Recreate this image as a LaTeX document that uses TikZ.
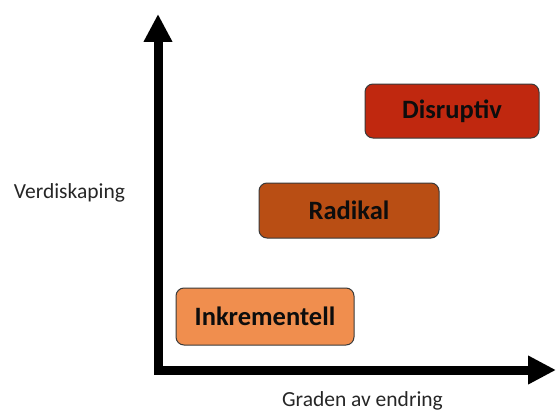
\documentclass[tikz,border=0pt]{standalone}
\usepackage{fontspec}
\setmainfont{Carlito}
\usetikzlibrary{arrows.meta,positioning}
\definecolor{innlys}{HTML}{F08E4E}
\definecolor{radbrun}{HTML}{B94E14}
\definecolor{disrod}{HTML}{C0280F}
\definecolor{kant}{HTML}{3A3A3A}

\begin{document}
\begin{tikzpicture}[
    x=1pt, y=-1pt,
    level/.style={rounded corners=8pt, draw=kant, line width=1pt,
                  minimum height=55pt, inner sep=0pt,
                  font=\fontsize{26.5}{30}\selectfont\bfseries, text=black!95},
    axis/.style={{Triangle[length=28pt,width=27pt]}-{Triangle[length=28pt,width=27pt]},
                 line width=9pt, miter limit=10, black},
    label/.style={font=\fontsize{21.5}{25}\selectfont, text=black!85, anchor=base}
  ]
    \useasboundingbox (0,0) rectangle (556,412);
    % axes
    \coordinate (origin) at (158,370);
    \coordinate (ytip)   at (158,14);
    \coordinate (xtip)   at (556,370);
    \draw[axis] (ytip) -- (origin) -- (xtip);
    % levels of change
    \node[level, fill=innlys,  minimum width=178pt, minimum height=57pt] (inkr) at (265,316.5) {Inkrementell};
    \node[level, fill=radbrun, minimum width=180pt] (rad)  at (349,210.5) {Radikal};
    \node[level, fill=disrod,  minimum width=174pt, minimum height=54pt] (disr) at (452,111)   {Disruptiv};
    % axis labels
    \node[label] (ylab) at (69.5,198) {Verdiskaping};
    \node[label] (xlab) at (362.5,406.5) {Graden av endring};
\end{tikzpicture}
\end{document}
